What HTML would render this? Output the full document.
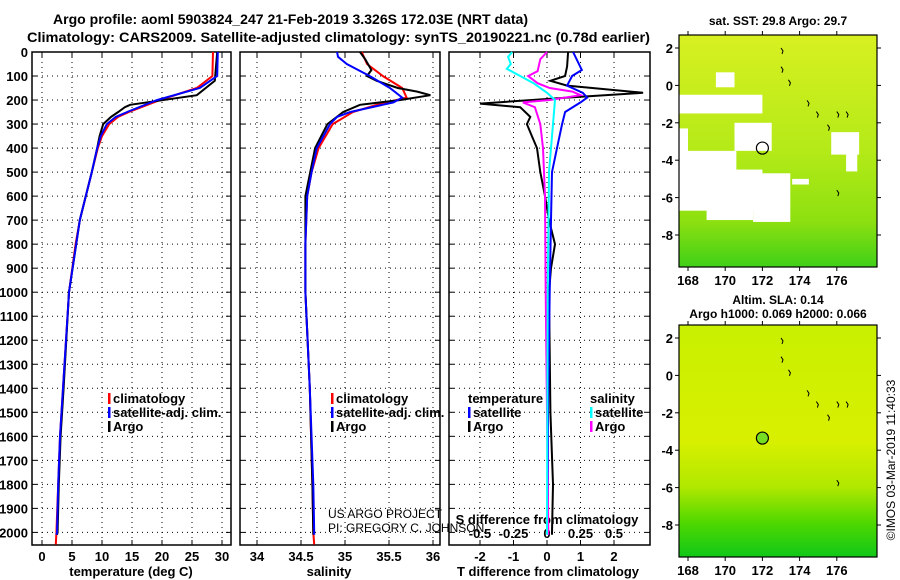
<!DOCTYPE html>
<html><head><meta charset="utf-8"><style>
body{margin:0;background:#fff}
svg{display:block;font-family:"Liberation Sans",sans-serif;font-weight:bold}
</style></head><body>
<svg id="c" width="900" height="580" viewBox="0 0 900 580">
<text x="53" y="24" font-size="14" textLength="475" lengthAdjust="spacingAndGlyphs">Argo profile: aoml 5903824_247 21-Feb-2019 3.326S 172.03E (NRT data)</text>
<text x="27" y="42" font-size="14" textLength="623" lengthAdjust="spacingAndGlyphs">Climatology: CARS2009. Satellite-adjusted climatology: synTS_20190221.nc (0.78d earlier)</text>
<g id="plots"></g>
<g id="maps"></g>
</svg>
<script>
// ---- data ----
const depthTicks=[0,100,200,300,400,500,600,700,800,900,1000,1100,1200,1300,1400,1500,1600,1700,1800,1900,2000];
const tTicks=[0,5,10,15,20,25,30];
const sTicks=[34,34.5,35,35.5,36];
const sTickLabels=["34","34.5","35","35.5","36"];
const dtTicks=[-2,-1,0,1,2];
const dsTicks=[-0.5,-0.25,0,0.25,0.5];
const dsTickLabels=["-0.5","-0.25","0","0.25","0.5"];

const tClimZ=[0,100,150,200,250,270,300,350,400,500,600,700,800,1000,1400,1600,1800,2000,2050];
const tClim=[28.5,28.4,25.8,19.7,14.5,12.7,11.2,10.0,9.3,8.3,7.3,6.3,5.6,4.5,3.5,3.0,2.7,2.4,2.3];
const tSatZ=[0,100,150,200,250,270,300,350,400,500,600,700,800,1000,1400,1600,1800,2000,2010];
const tSat=[29.3,29.2,26.3,19.2,14.2,12.3,10.8,9.8,9.2,8.3,7.3,6.3,5.7,4.5,3.5,3.0,2.7,2.5,2.4];
const tArgoZ=[0,120,180,220,230,250,270,300,350,400,500,600,700,800,1000,1400,1600,1800,2000,2010];
const tArgo=[29.2,28.8,25.8,14.7,13.8,12.7,11.5,10.2,9.6,9.2,8.3,7.3,6.3,5.7,4.5,3.6,3.1,2.8,2.6,2.5];

const sClimZ=[0,50,100,150,190,220,250,300,400,500,600,800,1000,1400,1800,2000,2050];
const sClim=[35.19,35.25,35.43,35.65,35.7,35.36,35.09,34.86,34.7,34.62,34.57,34.55,34.55,34.6,34.63,34.64,34.65];
const sSatZ=[0,20,50,100,150,190,210,250,270,300,400,500,600,800,1000,1400,1800,2000,2010];
const sSat=[34.91,34.92,35.02,35.28,35.51,35.65,35.55,35.06,34.91,34.83,34.68,34.62,34.57,34.55,34.55,34.6,34.64,34.65,34.65];
const sArgoZ=[0,30,75,100,120,150,165,180,200,220,250,300,400,600,1000,1400,1800,2000,2010];
const sArgo=[35.17,35.23,35.3,35.25,35.36,35.6,35.82,35.97,35.63,35.17,34.98,34.8,34.66,34.55,34.55,34.6,34.63,34.64,34.64];

const dTSatZ=[0,75,100,140,170,190,210,250,300,400,500,700,1000,1500,2000,2010];
const dTSat=[0.78,1.04,0.75,0.6,1.07,1.2,1.0,0.54,0.45,0.3,0.15,0.12,0.08,0.03,0.03,0.03];
const dTArgoZ=[0,60,100,120,140,170,190,215,230,270,300,350,400,500,600,700,800,900,1000,1500,1800,2000,2010];
const dTArgo=[0.63,0.6,0.54,0.1,0.6,2.87,0.6,-2.0,-0.8,-0.5,-0.6,-0.45,-0.3,-0.2,-0.06,0.06,0.24,0.12,0.06,0.1,0.18,0.15,0.15];
const dSSatZ=[0,20,50,70,100,130,170,200,300,500,1000,2000,2010];
const dSSat=[-0.26,-0.29,-0.27,-0.3,-0.2,-0.1,0,0.06,0.045,0.015,0.005,0,0];
const dSArgoZ=[0,30,80,100,130,150,165,180,200,210,230,300,400,600,1000,2000,2010];
const dSArgo=[0,-0.05,-0.07,-0.14,-0.07,0.02,0.19,0.25,0.02,-0.18,-0.09,-0.05,-0.03,-0.015,-0.01,0.01,0.01];

// ---- geometry ----
const yTop=52,yBot=545;
const y=z=>yTop+0.2402*z;
const panels=[{x0:32,x1:231,f:v=>42+6*v},{x0:240,x1:440,f:v=>257+88*(v-34)},{x0:449,x1:650,f:v=>547+33.5*v}];
const fS=v=>547+134*v;
const NS="http://www.w3.org/2000/svg";
const P=document.getElementById('plots');
function el(tag,attrs,parent,txt){const e=document.createElementNS(NS,tag);for(const k in attrs)e.setAttribute(k,attrs[k]);if(txt!==undefined)e.textContent=txt;(parent||P).appendChild(e);return e;}
function line(xs,zs,f,col,name){
  const pts=xs.map((v,i)=>f(v).toFixed(1)+','+y(zs[i]).toFixed(1)).join(' ');
  const e=el('polyline',{points:pts,fill:'none',stroke:col,'stroke-width':2});
  
  
}
panels.forEach((p,i)=>{
  const g=el('g',{});
  
  
  depthTicks.forEach(z=>{
    el('line',{x1:p.x0,x2:p.x1,y1:y(z),y2:y(z),stroke:'#000','stroke-width':1,'stroke-dasharray':'1,4'},g);
    el('line',{x1:p.x0,x2:p.x0+5,y1:y(z),y2:y(z),stroke:'#000'},g);
    el('line',{x1:p.x1-5,x2:p.x1,y1:y(z),y2:y(z),stroke:'#000'},g);
  });
  const vt=i==0?tTicks:i==1?sTicks:dtTicks;
  vt.forEach(v=>{const x=p.f(v);el('line',{x1:x,x2:x,y1:yTop,y2:yBot,stroke:'#000','stroke-dasharray':'1,4'},g);
    el('line',{x1:x,x2:x,y1:yBot-5,y2:yBot,stroke:'#000'},g);el('line',{x1:x,x2:x,y1:yTop,y2:yTop+5,stroke:'#000'},g);});
  el('rect',{x:p.x0,y:yTop,width:p.x1-p.x0,height:yBot-yTop,fill:'none',stroke:'#000','stroke-width':1.5},g);
});
depthTicks.forEach(z=>{const t=el('text',{x:28,y:y(z)+5,'font-size':13,'text-anchor':'end'},P,String(z));
  });
tTicks.forEach(v=>{const t=el('text',{x:panels[0].f(v),y:561,'font-size':13,'text-anchor':'middle'},P,String(v));});
sTicks.forEach((v,i)=>{const t=el('text',{x:panels[1].f(v),y:561,'font-size':13,'text-anchor':'middle'},P,sTickLabels[i]);});
dtTicks.forEach(v=>{const t=el('text',{x:panels[2].f(v),y:561,'font-size':13,'text-anchor':'middle'},P,String(v));});
dsTicks.forEach((v,i)=>{const t=el('text',{x:fS(v),y:538,'font-size':13,'text-anchor':'middle'},P,dsTickLabels[i]);});
[[131,'temperature (deg C)'],[329,'salinity'],[548,'T difference from climatology']].forEach(a=>{const t=el('text',{x:a[0],y:576,'font-size':13,'text-anchor':'middle'},P,a[1]);});
{const t=el('text',{x:547,y:524,'font-size':13,'text-anchor':'middle'},P,'S difference from climatology');}

line(tClim,tClimZ,panels[0].f,'#f00','temp-climatology-line');
line(tArgo,tArgoZ,panels[0].f,'#000','temp-argo-line');
line(tSat,tSatZ,panels[0].f,'#00f','temp-satellite-line');
line(sClim,sClimZ,panels[1].f,'#f00','sal-climatology-line');
line(sArgo,sArgoZ,panels[1].f,'#000','sal-argo-line');
line(sSat,sSatZ,panels[1].f,'#00f','sal-satellite-line');
line(dTArgo,dTArgoZ,panels[2].f,'#000','dt-argo-line');
line(dTSat,dTSatZ,panels[2].f,'#00f','dt-satellite-line');
line(dSArgo,dSArgoZ,fS,'#f0f','ds-argo-line');
line(dSSat,dSSatZ,fS,'#0ff','ds-satellite-line');

function legend(x,yy,items,name){
  items.forEach((it,i)=>{
    if(it[0]) el('rect',{x:x,y:yy+i*14-10,width:2.5,height:11,fill:it[0]});
    const t=el('text',{x:x+(it[0]?5:0),y:yy+i*14,'font-size':13},P,it[1]);
    
    
  });
}
legend(108,403,[['#f00','climatology'],['#00f','satellite-adj. clim.'],['#000','Argo']],'temp-legend');
legend(331,403,[['#f00','climatology'],['#00f','satellite-adj. clim.'],['#000','Argo']],'sal-legend');
legend(468,403,[[null,'temperature'],['#00f','satellite'],['#000','Argo']],'dt-legend');
legend(590,403,[[null,'salinity'],['#0ff','satellite'],['#f0f','Argo']],'ds-legend');
{const t=el('text',{x:328,y:518,'font-size':12,'font-weight':'normal',fill:'#000'},P,'US ARGO PROJECT');}
{const t=el('text',{x:328,y:532,'font-size':12,'font-weight':'normal',fill:'#000'},P,'PI: GREGORY C. JOHNSON');}

// ---- maps ----
const M=document.getElementById('maps');
const lonTicks=[168,170,172,174,176];
const latTicks=[2,0,-2,-4,-6,-8];
const lx=lon=>688+18.6*(lon-168);
function map(y0,y1,title1,title2,bg,whites,name){
  const g=el('g',{},M);
  
  
  const ly=lat=>y0+13+18.7*(2-lat);
  el('rect',{x:679,y:y0,width:198,height:y1-y0,fill:bg},g);
  whites.forEach(w=>el('rect',{x:lx(w[0]),y:ly(w[1]),width:18.6*w[2],height:18.7*w[3],fill:'#fff'},g));
  [[173,2],[173,1],[173.4,0.3],[174.4,-0.8],[174.9,-1.4],[175.5,-2.1],[176,-1.4],[176.5,-1.4],[176,-5.6]].forEach(c=>el('path',{d:`M${lx(c[0])},${ly(c[1])} l2,3 l-1,3`,stroke:'#000',fill:'none','stroke-width':1},g));
  el('circle',{cx:lx(172),cy:ly(-3.35),r:6,fill:name=='sla-map'?'#7d2':'none',stroke:'#000','stroke-width':1.2},g);
  el('rect',{x:679,y:y0,width:198,height:y1-y0,fill:'none',stroke:'#000','stroke-width':1.2},g);
  lonTicks.forEach(l=>{el('line',{x1:lx(l),x2:lx(l),y1:y1,y2:y1+4,stroke:'#000'},g);el('line',{x1:lx(l),x2:lx(l),y1:y0-4,y2:y0,stroke:'#000'},g);
    el('text',{x:lx(l),y:y1+18,'font-size':13,'text-anchor':'middle'},g,String(l));});
  latTicks.forEach(l=>{el('line',{x1:675,x2:679,y1:ly(l),y2:ly(l),stroke:'#000'},g);el('line',{x1:877,x2:881,y1:ly(l),y2:ly(l),stroke:'#000'},g);
    el('text',{x:673,y:ly(l)+5,'font-size':13,'text-anchor':'end'},g,String(l));});
  el('text',{x:778,y:title2?y0-21:y0-10,'font-size':12,'text-anchor':'middle'},g,title1);
  if(title2) el('text',{x:778,y:y0-7,'font-size':12,'text-anchor':'middle'},g,title2);
}
const defs=el('defs',{},M);
const g1=el('linearGradient',{id:'gs',x1:0,y1:0,x2:0,y2:1},defs);
el('stop',{offset:'0','stop-color':'#d8f020'},g1);el('stop',{offset:'0.5','stop-color':'#b4ea18'},g1);el('stop',{offset:'0.8','stop-color':'#8ee010'},g1);el('stop',{offset:'1','stop-color':'#40d018'},g1);
const g2=el('linearGradient',{id:'ga',x1:0,y1:0,x2:0,y2:1},defs);
el('stop',{offset:'0','stop-color':'#c8f000'},g2);el('stop',{offset:'0.5','stop-color':'#d8f000'},g2);el('stop',{offset:'0.7','stop-color':'#b0e800'},g2);el('stop',{offset:'0.85','stop-color':'#50d800'},g2);el('stop',{offset:'1','stop-color':'#10c818'},g2);
map(35,267,'sat. SST: 29.8 Argo: 29.7',null,'url(#gs)',[[167,-0.5,5,1],[167,-1.5,0.2,2],[167,-2.3,1,1.5],[170.5,-2,2,1.5],[167,-3.5,3.6,2.3],[167,-4.5,5,2.2],[168.5,-4.6,1.7,1.7],[171.5,-4.7,2,2.6],[169,-6.2,2.5,1],[175.7,-2.5,1.5,1.2],[176.5,-3.5,0.6,1.1],[173.6,-5,0.9,0.3],[169.5,0.7,1,0.8]],'sst-map');
map(325,557,'Altim. SLA: 0.14','Argo h1000: 0.069 h2000: 0.066','url(#ga)',[],'sla-map');
const cr=el('text',{x:895,y:460,'font-size':12,'font-weight':'normal','text-anchor':'middle',transform:'rotate(-90 895 460)'},M,'©IMOS 03-Mar-2019 11:40:33');


</script>
</body></html>
